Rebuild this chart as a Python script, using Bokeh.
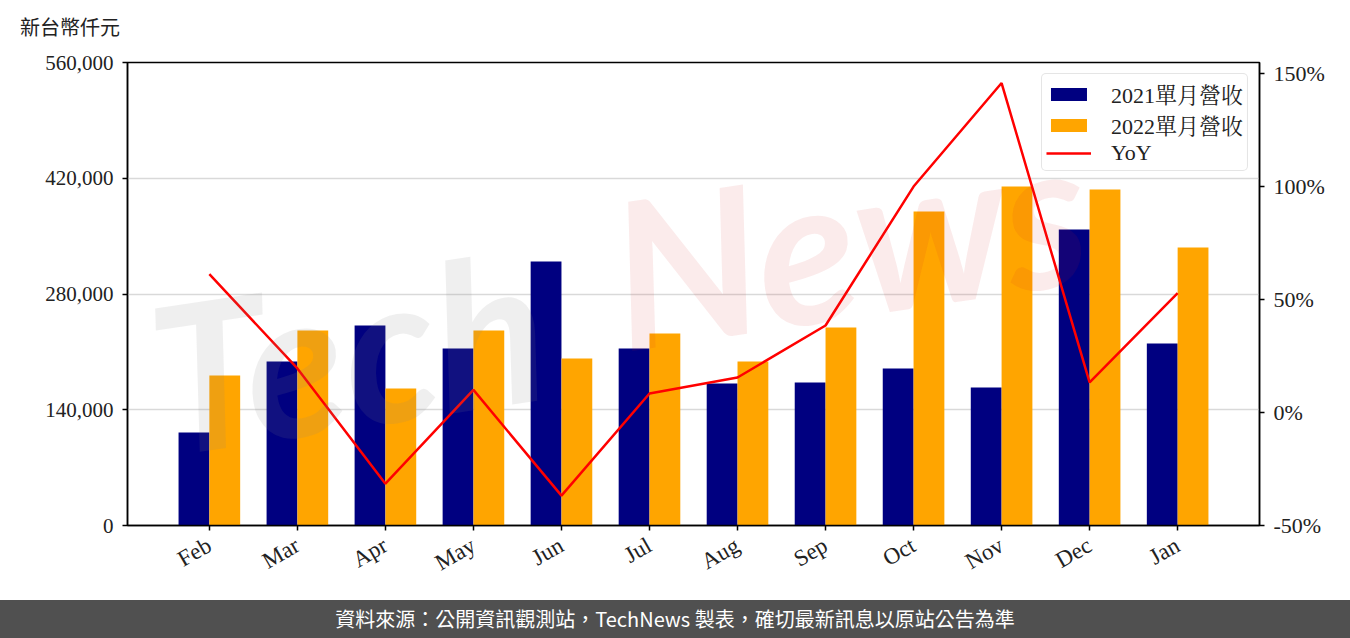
import numpy as np
from bokeh.plotting import figure
from bokeh.models import (Range1d, LinearAxis, FixedTicker, NumeralTickFormatter,
                          PrintfTickFormatter, Legend, LegendItem, Label, Div)
from bokeh.layouts import column
from bokeh.embed import file_html
from bokeh.resources import INLINE

months = ["Feb", "Mar", "Apr", "May", "Jun", "Jul", "Aug", "Sep", "Oct", "Nov", "Dec", "Jan"]
rev_2021 = [112500, 198400, 241900, 214100, 319300, 214100, 171800, 173000, 189900, 166900, 358000, 220100]
rev_2022 = [181400, 235900, 165700, 235900, 202000, 232200, 198400, 239500, 379800, 410000, 406400, 336200]
yoy = [61.2, 19.5, -31.5, 10.0, -36.8, 8.4, 15.5, 38.5, 100.0, 145.8, 13.3, 52.8]
left_ticks = [0, 140000, 280000, 420000, 560000]
right_ticks = [-50, 0, 50, 100, 150]

SERIF = "Liberation Serif, Noto Serif CJK TC, Noto Sans CJK TC"
W = 1350

x = np.arange(len(months))
p = figure(width=W, height=560, output_backend="svg", toolbar_location=None,
           x_range=Range1d(-0.93, 11.93), y_range=Range1d(0, 560000),
           min_border_left=127, min_border_right=91, min_border_top=22, min_border_bottom=75)
p.extra_y_ranges = {"yoy": Range1d(-50, 154.9)}

p.xgrid.grid_line_color = None
p.ygrid.grid_line_color = "#d9d9d9"
p.ygrid.grid_line_width = 1.6
p.outline_line_color = "black"
p.outline_line_width = 1.5

b1 = p.vbar(x=x - 0.175, top=rev_2021, width=0.35, color="#000080", line_color=None)
b2 = p.vbar(x=x + 0.175, top=rev_2022, width=0.35, color="#FFA500", line_color=None)
ln = p.line(x=x, y=yoy, y_range_name="yoy", line_color="#FF0000", line_width=2.5)

# faint watermark (kept inside the plot frame)
p.add_layout(Label(x=-0.44, y=30000, text="Tech", angle=0.15, text_font="Lato",
                   text_font_style="bold italic", text_font_size="205px",
                   text_color="#808080", text_alpha=0.13))
p.add_layout(Label(x=4.79, y=157000, text="News", angle=0.15, text_font="Lato",
                   text_font_style="bold italic", text_font_size="205px",
                   text_color="#D02020", text_alpha=0.09))

xa = p.xaxis[0]
xa.ticker = FixedTicker(ticks=list(x))
xa.major_label_overrides = {int(i): m for i, m in zip(x, months)}
xa.major_label_orientation = np.pi / 6
ya = p.yaxis[0]
ya.ticker = FixedTicker(ticks=left_ticks)
ya.formatter = NumeralTickFormatter(format="0,0")
ra = LinearAxis(y_range_name="yoy", ticker=FixedTicker(ticks=right_ticks),
                formatter=PrintfTickFormatter(format="%d%%"))
p.add_layout(ra, "right")
for ax in [xa, ya, ra]:
    ax.axis_line_color = "black"
    ax.axis_line_width = 1.5
    ax.major_tick_line_color = "black"
    ax.major_tick_line_width = 1.5
    ax.major_tick_out = 5
    ax.major_tick_in = 0
    ax.minor_tick_line_color = None
    ax.major_label_text_font = SERIF
    ax.major_label_text_font_size = "21px"
    ax.major_label_text_color = "#222222"
    ax.major_label_standoff = 9
xa.major_label_text_font_size = "23px"
xa.major_label_standoff = 13
ra.major_label_text_font_size = "22px"

legend = Legend(items=[LegendItem(label="2021單月營收", renderers=[b1]),
                       LegendItem(label="2022單月營收", renderers=[b2]),
                       LegendItem(label="YoY", renderers=[ln])],
                location="top_right")
legend.label_text_font = SERIF
legend.label_text_font_size = "22px"
legend.label_text_color = "#222222"
legend.glyph_width = 45
legend.glyph_height = 16
legend.label_height = 22
legend.label_standoff = 20
legend.spacing = 0
legend.padding = 4
legend.margin = 11
legend.border_line_color = "#cccccc"
legend.border_line_width = 1.5
legend.background_fill_alpha = 0.85
if hasattr(legend, "border_radius"):
    legend.border_radius = 5
p.add_layout(legend)

header = Div(text='<span style="margin-left:20px">新台幣仟元</span>', width=W, height=40,
             margin=0,
             styles={"font-size": "20px", "line-height": "54px", "color": "#222222",
                     "font-family": "Noto Sans CJK TC", "overflow": "visible"})
footer = Div(text="資料來源：公開資訊觀測站，TechNews 製表，確切最新訊息以原站公告為準",
             width=W, height=38, margin=0,
             styles={"background-color": "#505050", "color": "white", "font-size": "20px",
                     "text-align": "center", "line-height": "38px",
                     "font-family": "Noto Sans CJK TC"})

layout = column(header, p, footer, spacing=0)
open("out.html", "w").write(file_html(layout, INLINE))
